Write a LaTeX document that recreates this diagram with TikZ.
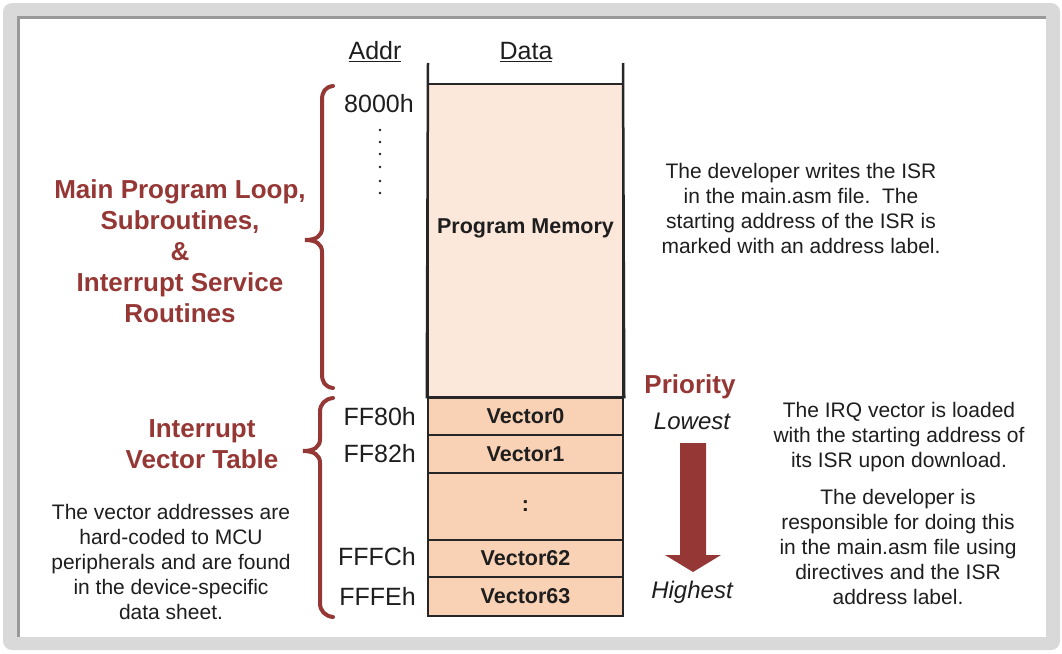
\documentclass[tikz,border=0pt]{standalone}
\usepackage{fontspec}
\setmainfont{Liberation Sans}
\definecolor{dred}{RGB}{149,55,53}
\definecolor{pmem}{RGB}{252,232,219}
\definecolor{vrow}{RGB}{249,210,182}
\definecolor{txt}{RGB}{30,30,30}
\begin{document}
\begin{tikzpicture}[x=1pt,y=-1pt,
  body/.style={font=\fontsize{21}{25}\selectfont, text=txt, align=center, inner sep=0pt},
  redhead/.style={font=\fontsize{26}{31}\selectfont\bfseries, text=dred, align=center, inner sep=0pt},
  addr/.style={font=\fontsize{25}{28}\selectfont, text=txt, inner sep=0pt},
  ital/.style={font=\fontsize{24}{28}\selectfont\itshape, text=txt, inner sep=0pt},
  cellfont/.style={font=\fontsize{21.5}{24}\selectfont\bfseries, text=txt, inner sep=0pt},
  cell/.style={draw=black!85, line width=2.5pt, fill=vrow, minimum width=195pt, cellfont},
  brace/.style={draw=dred, line width=4pt, line cap=round},
  dotm/.style={fill=txt, circle, inner sep=0pt, minimum size=2.6pt}]
\useasboundingbox (0,0) rectangle (1062,653);
% frame
\fill[black!15, rounded corners=9pt] (3,3) rectangle (1060,650);
\fill[black!40] (17,16) rectangle (1046,637);
\fill[white] (20,19) rectangle (1046,637);
% column heads
\node[addr] (haddr) at (375,52) {\underline{Addr}};
\node[addr] (hdata) at (526,52) {\underline{Data}};
% program memory
\node[cell, fill=pmem, minimum height=313pt] (pm) at (525.5,240.5) {};
\node[cellfont] (pmlabel) at (525.5,228) {Program Memory};
\draw[line width=2.5pt, black!85] (428,63) -- (pm.south west);
\draw[line width=2.5pt, black!85] (623,63) -- (pm.south east);
% vector table
\node[cell, minimum height=37pt] (v0) at (525.5,416.5) {Vector0};
\node[cell, minimum height=38pt] (v1) at (525.5,454) {Vector1};
\node[cell, minimum height=67pt] (vd) at (525.5,506.5) {:};
\node[cell, minimum height=37pt] (v62) at (525.5,558.5) {Vector62};
\node[cell, minimum height=39pt] (v63) at (525.5,596.5) {Vector63};
% addresses
\node[addr] (a8000) at (379,104) {8000h};
\foreach \yy [count=\i] in {130,142,154,167,181,193} \node[dotm] (d\i) at (380,\yy) {};
\node[addr, anchor=east] (aff80) at (416,417) {FF80h};
\node[addr, anchor=east] (aff82) at (416,454) {FF82h};
\node[addr, anchor=east] (afffc) at (416,557) {FFFCh};
\node[addr, anchor=east] (afffe) at (416,596) {FFFEh};
% braces
\draw[brace] (333,86) .. controls (325,87) and (322,92) .. (322,100) -- (322,228)
  .. controls (322,236) and (316,240) .. (305,240)
  .. controls (316,240) and (322,244) .. (322,252) -- (322,374)
  .. controls (322,382) and (325,387) .. (333,388);
\draw[brace] (333,398) .. controls (325,399) and (320,404) .. (320,412) -- (320,439)
  .. controls (320,447) and (314,451) .. (303,451)
  .. controls (314,451) and (320,455) .. (320,463) -- (320,603)
  .. controls (320,611) and (325,616) .. (333,617);
% left texts
\node[redhead] (lmain) at (180,251) {Main Program Loop,\\Subroutines,\\\&\\Interrupt Service\\Routines};
\node[redhead] (livt) at (202,444) {Interrupt\\Vector Table};
\node[body] (lvec) at (171,562) {The vector addresses are\\hard-coded to MCU\\peripherals and are found\\in the device-specific\\data sheet.};
% right texts
\node[body] (rdev) at (801,208) {The developer writes the ISR\\in the main.asm file.\ \ The\\starting address of the ISR is\\marked with an address label.};
\node[body] (rirq) at (899,437) {The IRQ vector is loaded\\with the starting address of\\its ISR upon download.};
\node[body] (rresp) at (898,547) {The developer is\\responsible for doing this\\in the main.asm file using\\directives and the ISR\\address label.};
% priority
\node[redhead] (prio) at (690,387) {Priority};
\node[ital] (low) at (692,421) {Lowest};
\node[ital] (high) at (692,592) {Highest};
\fill[dred] (680,443) -- (706,443) -- (706,555) -- (721,555) -- (693,572) -- (665,555) -- (680,555) -- cycle;
\end{tikzpicture}
\end{document}
